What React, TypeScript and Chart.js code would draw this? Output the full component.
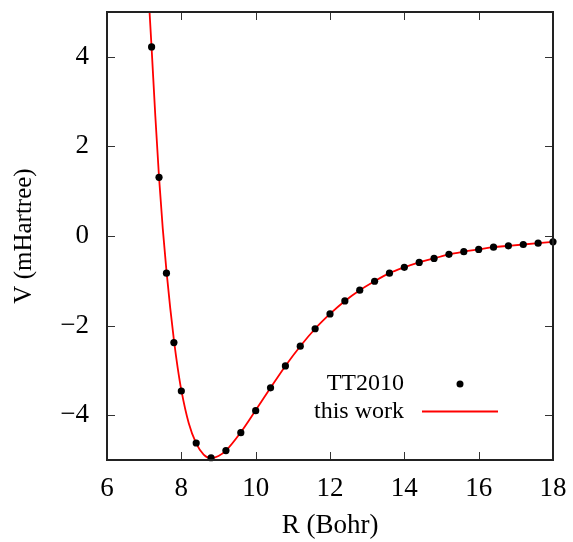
import React, { useEffect, useRef } from "react";
import { Chart, registerables } from "chart.js";

Chart.register(...registerables);

// TT2010 reference potential points: R (Bohr), V (mHartree)
const ttR = [
  7.2, 7.4, 7.6, 7.8, 8.0, 8.4, 8.8, 9.2, 9.6, 10.0, 10.4, 10.8, 11.2, 11.6,
  12.0, 12.4, 12.8, 13.2, 13.6, 14.0, 14.4, 14.8, 15.2, 15.6, 16.0, 16.4, 16.8,
  17.2, 17.6, 18.0,
];
const ttV = [
  4.22, 1.31, -0.83, -2.38, -3.46, -4.62, -4.95, -4.79, -4.39, -3.9, -3.39,
  -2.9, -2.46, -2.07, -1.74, -1.45, -1.21, -1.01, -0.83, -0.7, -0.59, -0.5,
  -0.41, -0.35, -0.3, -0.25, -0.22, -0.19, -0.16, -0.13,
];

// Fitted curve ("this work")
const fitR = [
  7.1, 7.2, 7.3, 7.4, 7.5, 7.6, 7.7, 7.8, 7.9, 8.0, 8.2, 8.4, 8.6, 8.8, 9.0,
  9.2, 9.6, 10.0, 10.4, 10.8, 11.2, 11.6, 12.0, 12.4, 12.8, 13.2, 13.6, 14.0,
  14.4, 14.8, 15.2, 15.6, 16.0, 16.4, 16.8, 17.2, 17.6, 18.0,
];
const fitV = [
  5.65, 4.2, 2.68, 1.31, 0.17, -0.78, -1.6, -2.32, -2.93, -3.44, -4.18, -4.63,
  -4.88, -4.96, -4.91, -4.79, -4.38, -3.89, -3.39, -2.9, -2.46, -2.07, -1.74,
  -1.45, -1.21, -1.01, -0.83, -0.7, -0.59, -0.5, -0.41, -0.35, -0.3, -0.25,
  -0.22, -0.19, -0.16, -0.13,
];

const xTicks = [6, 8, 10, 12, 14, 16, 18];
const yTicks = [-4, -2, 0, 2, 4];

const FONT = "'Liberation Serif'";

const framePlugin = {
  id: "frame",
  afterDraw(chart: any) {
    const { ctx, chartArea: a, scales } = chart;
    const tl = 8;
    ctx.save();
    ctx.strokeStyle = "#333";
    ctx.lineWidth = 1;
    ctx.beginPath();
    for (const v of xTicks) {
      const px = Math.round(scales.x.getPixelForValue(v)) + 0.5;
      ctx.moveTo(px, a.bottom);
      ctx.lineTo(px, a.bottom - tl);
      ctx.moveTo(px, a.top);
      ctx.lineTo(px, a.top + tl);
    }
    for (const v of yTicks) {
      const py = Math.round(scales.y.getPixelForValue(v)) + 0.5;
      ctx.moveTo(a.left, py);
      ctx.lineTo(a.left + tl, py);
      ctx.moveTo(a.right, py);
      ctx.lineTo(a.right - tl, py);
    }
    ctx.stroke();

    ctx.strokeStyle = "#222";
    ctx.lineWidth = 2;
    ctx.strokeRect(a.left, a.top, a.right - a.left, a.bottom - a.top);

    // legend
    ctx.fillStyle = "#000";
    ctx.font = `24px ${FONT}`;
    ctx.textAlign = "right";
    ctx.textBaseline = "middle";
    ctx.fillText("TT2010", 404, 384);
    ctx.fillText("this work", 404, 412);
    ctx.beginPath();
    ctx.arc(460, 384, 3.5, 0, Math.PI * 2);
    ctx.fill();
    ctx.strokeStyle = "#ff0000";
    ctx.lineWidth = 1.8;
    ctx.beginPath();
    ctx.moveTo(422, 411.5);
    ctx.lineTo(498, 411.5);
    ctx.stroke();
    ctx.restore();
  },
};

export default function App() {
  const ref = useRef<HTMLCanvasElement | null>(null);

  useEffect(() => {
    if (!ref.current) return;
    let chart: Chart | null = null;
    let alive = true;
    const build = () => {
      if (!alive || !ref.current) return;
      chart = new Chart(ref.current, {
        type: "scatter",
        data: {
          datasets: [
            {
              label: "this work",
              type: "line",
              data: fitR.map((r, i) => ({ x: r, y: fitV[i] })),
              borderColor: "#ff0000",
              borderWidth: 1.8,
              pointRadius: 0,
              cubicInterpolationMode: "monotone",
              fill: false,
              clip: 0,
              order: 2,
            } as any,
            {
              label: "TT2010",
              data: ttR.map((r, i) => ({ x: r, y: ttV[i] })),
              backgroundColor: "#000",
              borderColor: "#000",
              pointRadius: 3.6,
              pointBorderWidth: 0,
              clip: false,
              order: 1,
            } as any,
          ],
        },
        options: {
          responsive: false,
          animation: false,
          layout: { padding: { top: 12, right: 20, left: 0, bottom: 0 } },
          plugins: { legend: { display: false }, tooltip: { enabled: false } },
          scales: {
            x: {
              type: "linear",
              min: 6,
              max: 18,
              afterBuildTicks: (s: any) => {
                s.ticks = xTicks.map((v) => ({ value: v }));
              },
              afterFit: (s: any) => {
                s.height = 82;
                s.paddingLeft = 0;
                s.paddingRight = 0;
              },
              grid: { display: false, drawTicks: false },
              border: { display: false },
              ticks: {
                color: "#000",
                padding: 13,
                maxRotation: 0,
                font: { family: FONT, size: 27 },
              },
              title: {
                display: true,
                text: "R (Bohr)",
                color: "#000",
                font: { family: FONT, size: 27 },
                padding: { top: 0, bottom: 0 },
              },
            },
            y: {
              type: "linear",
              min: -5,
              max: 5,
              afterBuildTicks: (s: any) => {
                s.ticks = yTicks.map((v) => ({ value: v }));
              },
              afterFit: (s: any) => {
                s.width = 107;
                s.paddingTop = 0;
                s.paddingBottom = 0;
              },
              grid: { display: false, drawTicks: false },
              border: { display: false },
              ticks: {
                color: "#000",
                padding: 18,
                font: { family: FONT, size: 27 },
                callback: (v: any) => String(v).replace("-", "\u2212"),
              },
              title: {
                display: true,
                text: "V (mHartree)",
                color: "#000",
                font: { family: FONT, size: 25 },
                padding: { top: 9, bottom: 0 },
              },
            },
          },
        },
        plugins: [framePlugin],
      });
    };
    const fonts = (document as any).fonts;
    if (fonts && fonts.load) {
      Promise.all([fonts.load(`24px ${FONT}`), fonts.load(`27px ${FONT}`)]).then(build, build);
    } else {
      build();
    }
    return () => {
      alive = false;
      if (chart) chart.destroy();
    };
  }, []);

  return (
    <div style={{ position: "fixed", left: 0, top: 0, width: 573, height: 542, background: "#fff" }}>
      <canvas ref={ref} width={573} height={542} style={{ display: "block" }} />
    </div>
  );
}
